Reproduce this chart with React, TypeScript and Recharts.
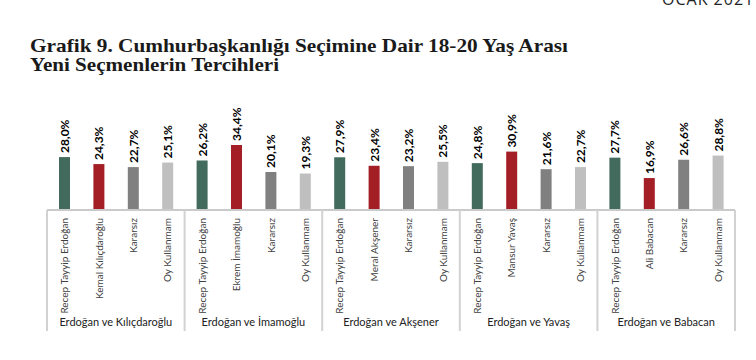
import React from "react";
import { BarChart, Bar, XAxis, YAxis, Cell, LabelList } from "recharts";

const categories = [
  "Recep Tayyip Erdoğan", "Kemal Kılıçdaroğlu", "Kararsız", "Oy Kullanmam",
  "Recep Tayyip Erdoğan", "Ekrem İmamoğlu", "Kararsız", "Oy Kullanmam",
  "Recep Tayyip Erdoğan", "Meral Akşener", "Kararsız", "Oy Kullanmam",
  "Recep Tayyip Erdoğan", "Mansur Yavaş", "Kararsız", "Oy Kullanmam",
  "Recep Tayyip Erdoğan", "Ali Babacan", "Kararsız", "Oy Kullanmam",
];

const values = [
  28.0, 24.3, 22.7, 25.1,
  26.2, 34.4, 20.1, 19.3,
  27.9, 23.4, 23.2, 25.5,
  24.8, 30.9, 21.6, 22.7,
  27.7, 16.9, 26.6, 28.8,
];

const groups = [
  "Erdoğan ve Kılıçdaroğlu",
  "Erdoğan ve İmamoğlu",
  "Erdoğan ve Akşener",
  "Erdoğan ve Yavaş",
  "Erdoğan ve Babacan",
];

const roleColors = ["#426b5d", "#a31f25", "#808080", "#bfbfbf"];

const titleLines = [
  "Grafik 9. Cumhurbaşkanlığı Seçimine Dair 18-20 Yaş Arası",
  "Yeni Seçmenlerin Tercihleri",
];
const titleWidths = [538, 249];
const headerText = "OCAK 2021";

const data = categories.map((name, i) => ({
  key: `c${i}`,
  name,
  value: values[i],
  group: groups[Math.floor(i / 4)],
}));

const CHART_W = 756;
const CHART_H = 360;
const MARGIN = { top: 115.5, right: 21, left: 47, bottom: 0 };
const PLOT_W = CHART_W - MARGIN.left - MARGIN.right;
const BAND = PLOT_W / categories.length;
const AXIS_Y = 210;

const labelFont = "Lato, 'Open Sans', sans-serif";

const CatTick = (props: any) => {
  const { x, y, index } = props;
  const d = data[index];
  if (!d) return null;
  const out: React.ReactNode[] = [];
  out.push(
    <text
      key="t"
      x={x}
      y={y}
      transform={`rotate(-90, ${x}, ${y})`}
      textAnchor="end"
      dominantBaseline="central"
      fontSize={10}
      fontFamily={labelFont}
      fill="#404040"
    >
      {d.name}
    </text>
  );
  if (index % 4 === 0) {
    const left = x - BAND / 2;
    const center = left + BAND * 2;
    out.push(
      <line key="s" x1={left} x2={left} y1={AXIS_Y} y2={331} stroke="#d2d2d2" strokeWidth={2} />
    );
    if (index === categories.length - 4) {
      const right = left + BAND * 4;
      out.push(
        <line key="e" x1={right} x2={right} y1={AXIS_Y} y2={331} stroke="#d2d2d2" strokeWidth={2} />
      );
    }
    out.push(
      <text
        key="g"
        x={center}
        y={326}
        textAnchor="middle"
        fontSize={11}
        fontFamily={labelFont}
        fill="#222"
      >
        {d.group}
      </text>
    );
  }
  return <g>{out}</g>;
};

const ValueLabel = (props: any) => {
  const { x, y, width, value } = props;
  const cx = x + width / 2;
  const ty = y - 4;
  return (
    <text
      x={cx}
      y={ty}
      transform={`rotate(-90, ${cx}, ${ty})`}
      textAnchor="start"
      dominantBaseline="central"
      fontSize={12}
      fontWeight="bold"
      fontFamily={labelFont}
      fill="#000"
    >
      {value.toFixed(1).replace(".", ",") + "%"}
    </text>
  );
};

export default function App() {
  return (
    <div style={{ position: "absolute", left: 0, top: 0, width: CHART_W, height: CHART_H, background: "#fff", overflow: "hidden" }}>
      <svg width={CHART_W} height={CHART_H} style={{ position: "absolute", left: 0, top: 0 }}>
        <text x={662} y={4.5} fontSize={16} letterSpacing={1} fontFamily="'Open Sans', sans-serif" fill="#222">
          {headerText}
        </text>
        {titleLines.map((t, i) => (
          <text
            key={i}
            x={30}
            y={52 + i * 19}
            fontSize={19}
            fontWeight="bold"
            textLength={titleWidths[i]}
            lengthAdjust="spacingAndGlyphs"
            fontFamily="'Liberation Serif', 'Times New Roman', serif"
            fill="#1a1a1a"
          >
            {t}
          </text>
        ))}
      </svg>
      <div style={{ position: "absolute", left: 0, top: 0 }}>
        <BarChart width={CHART_W} height={CHART_H} data={data} margin={MARGIN}>
          <XAxis
            dataKey="key"
            height={150}
            interval={0}
            tickLine={false}
            axisLine={{ stroke: "#cacaca", strokeWidth: 2 }}
            tick={<CatTick />}
          />
          <YAxis hide domain={[0, 50]} />
          <Bar dataKey="value" barSize={11} isAnimationActive={false}>
            {data.map((d, i) => (
              <Cell key={d.key} fill={roleColors[i % 4]} />
            ))}
            <LabelList dataKey="value" content={<ValueLabel />} />
          </Bar>
        </BarChart>
      </div>
    </div>
  );
}
